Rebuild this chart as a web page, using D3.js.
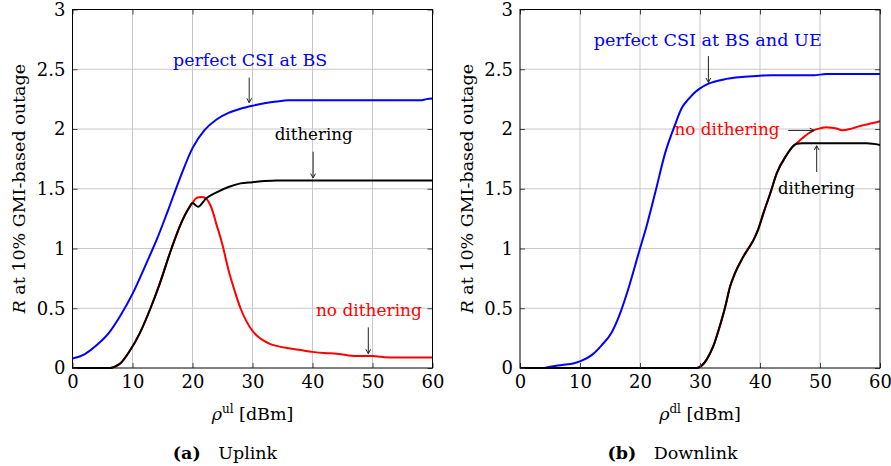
<!DOCTYPE html>
<html>
<head>
<meta charset="utf-8">
<script src="https://cdn.jsdelivr.net/npm/d3@7"></script>
<style>
  html, body { margin: 0; padding: 0; background: #fff; }
  svg { display: block; }
  text { font-family: "DejaVu Serif", "Liberation Serif", serif; }
</style>
</head>
<body>
<svg id="fig" width="891" height="466"></svg>
<script>
// Axis ticks shared by both panels
const X_TICKS = [0, 10, 20, 30, 40, 50, 60];
const Y_TICKS = [0, 0.5, 1, 1.5, 2, 2.5, 3];
const Y_TICK_LABELS = ["0", "0.5", "1", "1.5", "2", "2.5", "3"];
const X_TICK_LABELS = ["0", "10", "20", "30", "40", "50", "60"];

// Uplink: rate R at 10% GMI-based outage vs. rho_ul [dBm]
const ulPerfect = [
  [0, 0.08], [2, 0.115], [4, 0.19], [6, 0.29], [8, 0.44], [10, 0.62], [12, 0.84],
  [13.4, 1.0], [14, 1.07], [16, 1.33], [18, 1.6], [20, 1.84], [22, 1.99], [24, 2.08],
  [26, 2.135], [28, 2.17], [30, 2.195], [32, 2.215], [34, 2.23], [36, 2.24],
  [40, 2.24], [45, 2.24], [50, 2.24], [55, 2.24], [58, 2.24], [59, 2.25], [60, 2.255]
];
const ulDither = [
  [0, 0], [4, 0], [6.2, 0], [7, 0.01], [8, 0.04], [9.5, 0.14], [11.2, 0.29], [13, 0.5],
  [14.5, 0.7], [16.5, 1.0], [18, 1.2], [19.3, 1.33], [20, 1.38], [20.9, 1.35],
  [22.3, 1.42], [24, 1.47], [26, 1.515], [28, 1.545], [30, 1.555], [32, 1.565],
  [34, 1.57], [40, 1.57], [50, 1.57], [60, 1.57]
];
const ulNoDither = [
  [0, 0], [4, 0], [6.2, 0], [7, 0.01], [8, 0.04], [9.5, 0.14], [11.2, 0.29], [13, 0.5],
  [14.5, 0.7], [16.5, 1.0], [18, 1.2], [19.3, 1.33], [20, 1.38], [20.7, 1.425],
  [21.5, 1.43], [22.2, 1.42], [23, 1.36], [23.5, 1.29], [24, 1.2], [24.5, 1.12],
  [25, 1.03], [26, 0.82], [27, 0.65], [28, 0.5], [29, 0.39], [30, 0.31], [31, 0.26],
  [32, 0.225], [33, 0.2], [34, 0.185], [36, 0.165], [38, 0.15], [40, 0.135],
  [42, 0.125], [44, 0.12], [46, 0.105], [48, 0.1], [50, 0.1], [51, 0.097],
  [52, 0.09], [54, 0.088], [60, 0.088]
];

// Downlink: rate R at 10% GMI-based outage vs. rho_dl [dBm]
const dlPerfect = [
  [0, 0], [4, 0], [5, 0.01], [7, 0.025], [9, 0.04], [10, 0.055], [12, 0.11],
  [13.6, 0.19], [15.3, 0.3], [16.7, 0.46], [18.1, 0.67], [20, 1.0], [21, 1.17],
  [22.5, 1.46], [24.2, 1.8], [25.8, 2.03], [27, 2.18], [28, 2.245], [29, 2.3],
  [30, 2.34], [31, 2.37], [32, 2.39], [34, 2.415], [36, 2.43], [38, 2.44],
  [40, 2.446], [42, 2.45], [49, 2.45], [51, 2.46], [60, 2.46]
];
const dlDither = [
  [0, 0], [10, 0], [20, 0], [29.5, 0], [30.3, 0.02], [31.1, 0.07], [32.2, 0.18],
  [33.3, 0.35], [34.2, 0.51], [35, 0.68], [35.8, 0.79], [37.2, 0.93], [38.9, 1.07],
  [39.7, 1.16], [40.6, 1.3], [41.7, 1.46], [42.8, 1.63], [44.4, 1.78], [45.4, 1.85],
  [46.1, 1.876], [47, 1.88], [50, 1.88], [55, 1.88], [57.8, 1.88], [60, 1.867]
];
const dlNoDither = [
  [0, 0], [10, 0], [20, 0], [29.5, 0], [30.3, 0.02], [31.1, 0.07], [32.2, 0.18],
  [33.3, 0.35], [34.2, 0.51], [35, 0.68], [35.8, 0.79], [37.2, 0.93], [38.9, 1.07],
  [39.7, 1.16], [40.6, 1.3], [41.7, 1.46], [42.8, 1.63], [44.4, 1.78], [45.4, 1.85],
  [46.1, 1.88], [47, 1.92], [48, 1.96], [49, 1.99], [50, 2.005], [51, 2.015],
  [52, 2.01], [53, 2.0], [53.6, 1.99], [55, 2.0], [56, 2.015], [57, 2.03],
  [58, 2.04], [59, 2.052], [60, 2.065]
];

const COLORS = { perfect: "#0000ff", dither: "#000000", noDither: "#ff0000" };

const svg = d3.select("#fig");
const FONT = 17.5;           // running text
const NUM_FONT = "Liberation Serif";
const NUM_SIZE = 18;         // tick numbers

function panel(cfg) {
  const x = d3.scaleLinear().domain([0, 60]).range([cfg.left, cfg.left + 360]);
  const y = d3.scaleLinear().domain([0, 3]).range([368, 9.5]);
  const g = svg.append("g");

  // grid
  g.append("g").selectAll("line").data(X_TICKS.slice(1, -1)).join("line")
    .attr("x1", d => x(d)).attr("x2", d => x(d)).attr("y1", y(0)).attr("y2", y(3))
    .attr("stroke", "#c8c8c8").attr("stroke-width", 1);
  g.append("g").selectAll("line").data(Y_TICKS.slice(1, -1)).join("line")
    .attr("y1", d => y(d)).attr("y2", d => y(d)).attr("x1", x(0)).attr("x2", x(60))
    .attr("stroke", "#c8c8c8").attr("stroke-width", 1);

  // curves
  const line = d3.line().x(d => x(d[0])).y(d => y(d[1])).curve(d3.curveMonotoneX);
  const curves = [
    [cfg.perfect, COLORS.perfect],
    [cfg.noDither, COLORS.noDither],
    [cfg.dither, COLORS.dither]
  ];
  curves.forEach(([data, color]) => {
    g.append("path").datum(data).attr("d", line)
      .attr("fill", "none").attr("stroke", color)
      .attr("stroke-width", 2).attr("stroke-linejoin", "round");
  });

  // axes with inward ticks on all four sides
  const bottom = g.append("g").attr("transform", `translate(0,${y(0)})`)
    .call(d3.axisBottom(x).tickValues(X_TICKS).tickSize(-5).tickPadding(7)
      .tickFormat((d, i) => X_TICK_LABELS[i]));
  const left = g.append("g").attr("transform", `translate(${x(0)},0)`)
    .call(d3.axisLeft(y).tickValues(Y_TICKS).tickSize(-5).tickPadding(7)
      .tickFormat((d, i) => Y_TICK_LABELS[i]));
  const top = g.append("g").attr("transform", `translate(0,${y(3)})`)
    .call(d3.axisTop(x).tickValues(X_TICKS).tickSize(-5).tickFormat(""));
  const right = g.append("g").attr("transform", `translate(${x(60)},0)`)
    .call(d3.axisRight(y).tickValues(Y_TICKS).tickSize(-5).tickFormat(""));
  [bottom, left, top, right].forEach(a => {
    a.select(".domain").remove();
    a.selectAll(".tick line").attr("stroke", "#444");
    a.selectAll("text").attr("font-family", NUM_FONT).attr("font-size", NUM_SIZE)
      .attr("fill", "#000");
  });

  // frame
  g.append("rect").attr("x", x(0)).attr("y", y(3))
    .attr("width", x(60) - x(0)).attr("height", y(0) - y(3))
    .attr("fill", "none").attr("stroke", "#000").attr("stroke-width", 1);

  // y label
  const yl = g.append("text")
    .attr("transform", `translate(${cfg.left - 47.5},${(y(0) + y(3)) / 2}) rotate(-90)`)
    .attr("text-anchor", "middle").attr("font-size", FONT);
  yl.append("tspan").attr("font-style", "italic").text("R");
  yl.append("tspan").text(" at 10% GMI-based outage");

  // x label
  const xl = g.append("text").attr("x", (x(0) + x(60)) / 2).attr("y", 420)
    .attr("text-anchor", "middle").attr("font-size", FONT);
  xl.append("tspan").attr("font-style", "italic").text("ρ");
  xl.append("tspan").attr("font-size", 12).attr("dy", -7).text(cfg.sup);
  xl.append("tspan").attr("dy", 7).text(" [dBm]");

  // caption
  const cap = g.append("text").attr("x", cfg.capX).attr("y", 459)
    .attr("text-anchor", "middle").attr("font-size", FONT);
  cap.append("tspan").attr("font-weight", "bold").text(cfg.capTag);
  cap.append("tspan").text("\u2003" + cfg.capText);

  // annotations
  cfg.notes.forEach(n => {
    g.append("text").attr("x", x(n.tx)).attr("y", y(n.ty))
      .attr("text-anchor", "middle").attr("font-size", FONT).attr("fill", n.color)
      .attr("textLength", n.w).attr("lengthAdjust", "spacingAndGlyphs")
      .text(n.label);
    const x1 = x(n.ax1), y1 = y(n.ay1), x2 = x(n.ax2), y2 = y(n.ay2);
    g.append("line").attr("x1", x1).attr("y1", y1).attr("x2", x2).attr("y2", y2)
      .attr("stroke", "#222").attr("stroke-width", 1);
    const ang = Math.atan2(y2 - y1, x2 - x1);
    const L = 5, spread = 0.5;
    const p = [
      [x2 - L * Math.cos(ang - spread), y2 - L * Math.sin(ang - spread)],
      [x2, y2],
      [x2 - L * Math.cos(ang + spread), y2 - L * Math.sin(ang + spread)]
    ];
    g.append("path").attr("d", d3.line()(p)).attr("fill", "none")
      .attr("stroke", "#222").attr("stroke-width", 1);
  });
}

panel({
  left: 72.5, sup: "ul", capX: 225, capTag: "(a)", capText: "Uplink",
  perfect: ulPerfect, dither: ulDither, noDither: ulNoDither,
  notes: [
    { label: "perfect CSI at BS", color: COLORS.perfect, tx: 29.6, ty: 2.53, w: 154,
      ax1: 29.45, ay1: 2.43, ax2: 29.45, ay2: 2.22 },
    { label: "dithering", color: COLORS.dither, tx: 40.2, ty: 1.906, w: 78,
      ax1: 40.1, ay1: 1.81, ax2: 40.1, ay2: 1.59 },
    { label: "no dithering", color: COLORS.noDither, tx: 49.4, ty: 0.435, w: 106,
      ax1: 49.3, ay1: 0.34, ax2: 49.3, ay2: 0.12 }
  ]
});

panel({
  left: 520, sup: "dl", capX: 672.5, capTag: "(b)", capText: "Downlink",
  perfect: dlPerfect, dither: dlDither, noDither: dlNoDither,
  notes: [
    { label: "perfect CSI at BS and UE", color: COLORS.perfect, tx: 31.3, ty: 2.697, w: 228,
      ax1: 31.4, ay1: 2.61, ax2: 31.4, ay2: 2.39 },
    { label: "no dithering", color: COLORS.noDither, tx: 34.5, ty: 1.952, w: 105,
      ax1: 44.7, ay1: 1.988, ax2: 49.0, ay2: 1.988 },
    { label: "dithering", color: COLORS.dither, tx: 49.4, ty: 1.457, w: 77,
      ax1: 49.45, ay1: 1.64, ax2: 49.45, ay2: 1.86 }
  ]
});
</script>
</body>
</html>
